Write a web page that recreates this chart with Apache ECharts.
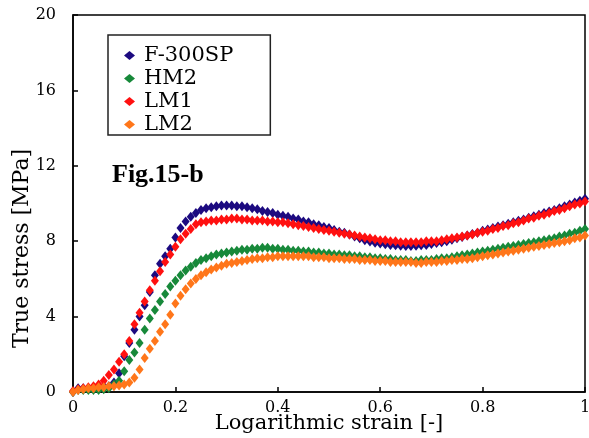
<!DOCTYPE html>
<html><head><meta charset="utf-8">
<script src="https://cdn.jsdelivr.net/npm/echarts@6/dist/echarts.min.js"></script>
<style>html,body{margin:0;padding:0;background:#fff}#c{width:589px;height:438px}</style>
</head><body><div id="c"></div>
<script>
const strain = [0,0.01,0.02,0.03,0.04,0.05,0.06,0.07,0.08,0.09,
0.10,0.11,0.12,0.13,0.14,0.15,0.16,0.17,0.18,0.19,
0.20,0.21,0.22,0.23,0.24,0.25,0.26,0.27,0.28,0.29,
0.30,0.31,0.32,0.33,0.34,0.35,0.36,0.37,0.38,0.39,
0.40,0.41,0.42,0.43,0.44,0.45,0.46,0.47,0.48,0.49,
0.50,0.51,0.52,0.53,0.54,0.55,0.56,0.57,0.58,0.59,
0.60,0.61,0.62,0.63,0.64,0.65,0.66,0.67,0.68,0.69,
0.70,0.71,0.72,0.73,0.74,0.75,0.76,0.77,0.78,0.79,
0.80,0.81,0.82,0.83,0.84,0.85,0.86,0.87,0.88,0.89,
0.90,0.91,0.92,0.93,0.94,0.95,0.96,0.97,0.98,0.99,1.00];

const f300sp = [0.0,0.2,0.2,0.2,0.2,0.25,0.3,0.3,0.5,1.0,
1.9,2.6,3.3,4.0,4.6,5.3,6.2,6.8,7.2,7.6,
8.2,8.7,9.05,9.3,9.5,9.65,9.75,9.8,9.85,9.9,
9.9,9.9,9.85,9.85,9.8,9.75,9.7,9.6,9.55,9.5,
9.4,9.35,9.3,9.2,9.15,9.05,9.0,8.9,8.85,8.75,
8.7,8.6,8.5,8.45,8.35,8.25,8.15,8.05,7.98,7.92,
7.88,7.84,7.8,7.78,7.76,7.75,7.75,7.76,7.78,7.8,
7.85,7.9,7.95,8.0,8.08,8.15,8.22,8.3,8.38,8.45,
8.55,8.62,8.7,8.78,8.85,8.93,9.0,9.08,9.15,9.25,
9.32,9.4,9.5,9.58,9.66,9.75,9.85,9.95,10.05,10.15,10.25];

const hm2 = [0.0,0.1,0.1,0.1,0.1,0.1,0.15,0.2,0.4,0.6,
1.1,1.7,2.1,2.6,3.3,3.9,4.35,4.8,5.2,5.6,
5.9,6.2,6.45,6.65,6.85,7.0,7.1,7.2,7.3,7.35,
7.4,7.45,7.5,7.55,7.55,7.6,7.6,7.65,7.65,7.6,
7.6,7.55,7.55,7.5,7.5,7.45,7.45,7.4,7.4,7.35,
7.35,7.3,7.3,7.25,7.25,7.2,7.2,7.15,7.15,7.1,
7.1,7.05,7.05,7.0,7.0,7.0,6.95,6.95,7.0,7.0,
7.0,7.05,7.1,7.1,7.15,7.2,7.25,7.3,7.35,7.4,
7.45,7.5,7.55,7.6,7.65,7.7,7.75,7.8,7.85,7.9,
7.95,8.0,8.05,8.1,8.15,8.25,8.3,8.4,8.45,8.55,8.65];

const lm1 = [0.05,0.15,0.2,0.25,0.3,0.4,0.6,0.9,1.2,1.6,
2.0,2.7,3.6,4.2,4.8,5.4,5.9,6.4,6.9,7.3,
7.7,8.1,8.4,8.65,8.9,9.0,9.05,9.1,9.1,9.15,
9.15,9.2,9.2,9.15,9.15,9.1,9.1,9.1,9.05,9.05,
9.0,9.0,8.95,8.9,8.85,8.8,8.75,8.7,8.65,8.6,
8.55,8.5,8.45,8.4,8.35,8.3,8.25,8.2,8.15,8.1,
8.05,8.05,8.0,8.0,7.95,7.95,7.95,7.95,7.95,8.0,
8.0,8.0,8.05,8.1,8.15,8.2,8.25,8.3,8.35,8.45,
8.5,8.55,8.65,8.7,8.8,8.85,8.95,9.0,9.1,9.2,
9.25,9.35,9.4,9.5,9.6,9.65,9.75,9.85,9.95,10.0,10.1];

const lm2 = [0.0,0.1,0.15,0.2,0.2,0.25,0.25,0.3,0.3,0.35,
0.4,0.5,0.75,1.2,1.8,2.3,2.7,3.2,3.6,4.1,
4.7,5.1,5.45,5.75,6.0,6.2,6.35,6.5,6.6,6.7,
6.8,6.85,6.9,6.95,7.0,7.05,7.1,7.1,7.15,7.15,
7.2,7.2,7.2,7.2,7.2,7.2,7.2,7.15,7.15,7.15,
7.1,7.1,7.1,7.05,7.05,7.05,7.0,7.0,7.0,6.95,
6.95,6.95,6.9,6.9,6.9,6.9,6.9,6.85,6.85,6.9,
6.9,6.9,6.95,6.95,7.0,7.0,7.05,7.05,7.1,7.15,
7.2,7.25,7.3,7.35,7.4,7.45,7.5,7.55,7.6,7.65,
7.7,7.75,7.8,7.85,7.9,7.95,8.0,8.05,8.15,8.2,8.3];

const seriesNames = ['F-300SP','HM2','LM1','LM2'];
const seriesColors = ['#1c0a80','#17893a','#ff1010','#ff761a'];
const seriesValues = [f300sp, hm2, lm1, lm2];
const xTickLabels = {'0':'0','0.2':'0.2','0.4':'0.4','0.6':'0.6','0.8':'0.8','1':'1'};
const yTickLabels = {'0':'0','4':'4','8':'8','12':'12','16':'16','20':'20'};

const chart = echarts.init(document.getElementById('c'), null, {renderer:'canvas'});
const serif = 'DejaVu Serif';
chart.setOption({
  animation: false,
  backgroundColor: '#fff',
  grid: {left: 73, right: 4, top: 15, bottom: 46, containLabel: false, outerBoundsMode: 'none',
    show: true, borderColor: '#000', borderWidth: 1.5, backgroundColor: 'transparent'},
  legend: {
    orient: 'vertical', left: 108, top: 35,
    data: seriesNames.map(n => ({name: n, icon: 'diamond'})),
    itemWidth: 11, itemHeight: 9, itemGap: 2,
    padding: [10, 37, 0, 16],
    borderColor: '#222', borderWidth: 1.5, backgroundColor: '#fff',
    textStyle: {fontFamily: serif, fontSize: 21, color: '#000', padding: [0,0,0,4]}
  },
  xAxis: {
    type: 'value', min: 0, max: 1, interval: 0.2,
    name: 'Logarithmic strain [-]', nameLocation: 'middle', nameGap: 21, nameMoveOverlap: false,
    nameTextStyle: {fontFamily: serif, fontSize: 21, color: '#000'},
    axisLine: {lineStyle: {color: '#000', width: 1.5}},
    axisTick: {inside: true, length: 5, lineStyle: {color: '#000', width: 1.5}},
    axisLabel: {fontFamily: serif, fontSize: 16, color: '#000', margin: 8,
      formatter: v => xTickLabels[String(+v.toFixed(1))] || ''},
    splitLine: {show: false}
  },
  yAxis: {
    type: 'value', min: 0, max: 20, interval: 4,
    name: 'True stress [MPa]', nameLocation: 'middle', nameGap: 40, nameMoveOverlap: false,
    nameTextStyle: {fontFamily: serif, fontSize: 22, color: '#000', padding: [0, 90, 0, 0]},
    axisLine: {lineStyle: {color: '#000', width: 1.5}},
    axisTick: {inside: true, length: 5, lineStyle: {color: '#000', width: 1.5}},
    axisLabel: {fontFamily: serif, fontSize: 16, color: '#000', margin: 17,
      formatter: v => yTickLabels[String(v)] || ''},
    splitLine: {show: false}
  },
  graphic: [{
    type: 'text', left: 112, top: 162,
    style: {text: 'Fig.15-b', fontFamily: 'Liberation Serif', fontWeight: 'bold', fontSize: 26, fill: '#000'}
  }],
  series: seriesNames.map((n, i) => ({
    name: n, type: 'scatter', symbol: 'diamond', symbolSize: [8, 10],
    itemStyle: {color: seriesColors[i], opacity: 1},
    data: strain.map((x, j) => [x, seriesValues[i][j]])
  }))
});
</script></body></html>
